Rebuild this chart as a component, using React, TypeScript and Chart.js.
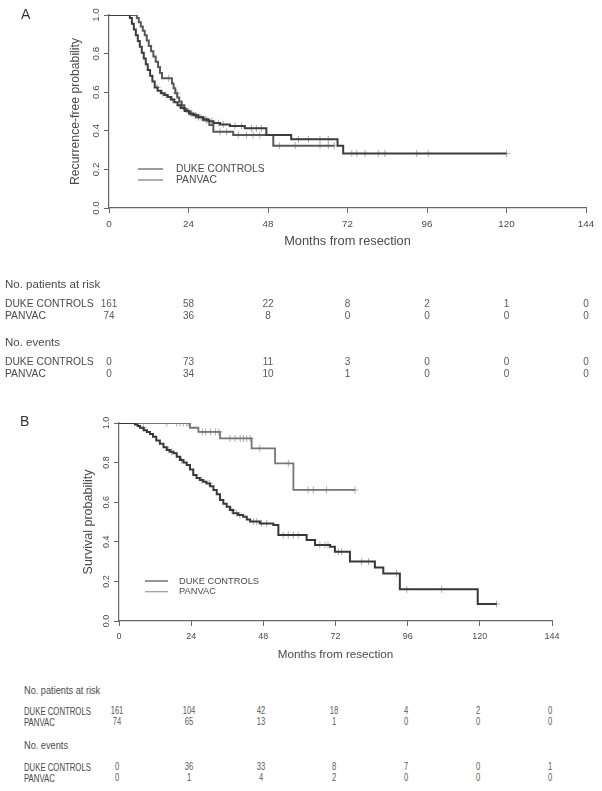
import React, { useEffect, useRef } from 'react';
import { Chart, registerables } from 'chart.js';

Chart.register(...registerables);

const FONT = '"Liberation Sans", Arial, Helvetica, sans-serif';

// ---------- shared axis / table data ----------
const xTicks = [0, 24, 48, 72, 96, 120, 144];
const yTicks = [0, 0.2, 0.4, 0.6, 0.8, 1.0];
const yTickLabels = ['0.0', '0.2', '0.4', '0.6', '0.8', '1.0'];
const groups = ['DUKE CONTROLS', 'PANVAC'];
const xTitle = 'Months from resection';

// ---------- Panel A: recurrence-free ----------
const aDukeT = [0, 6.3, 6.9, 7.5, 8.1, 8.7, 9.3, 9.9, 10.5, 11.1, 11.7, 12.4, 13.1, 13.8, 14.7, 15.7, 16.7, 17.7, 18.7, 19.7, 20.7, 21.7, 22.9, 24.2, 25.5, 27.0, 28.5, 30.0, 31.5, 33.5, 36.5, 41.0, 47.5, 55.0, 69.0, 70.7, 120];
const aDukeS = [1, 0.985, 0.955, 0.925, 0.895, 0.865, 0.835, 0.805, 0.775, 0.745, 0.715, 0.685, 0.655, 0.625, 0.607, 0.595, 0.585, 0.575, 0.562, 0.548, 0.533, 0.518, 0.503, 0.49, 0.48, 0.47, 0.46, 0.45, 0.44, 0.432, 0.425, 0.413, 0.378, 0.356, 0.323, 0.283, 0.283];
const aDukeCens = [14.5, 16.2, 17.2, 19.2, 21.2, 22.4, 25.0, 26.2, 27.8, 29.2, 31.0, 33.0, 34.5, 38.0, 40.0, 43.0, 44.5, 46.0, 57.2, 60.2, 63.7, 66.2, 73.3, 74.8, 77.3, 81.3, 83.3, 92.9, 96.4, 120];
const aPanT = [0, 8.4, 9.0, 9.6, 10.2, 10.8, 11.4, 12.0, 12.7, 13.4, 14.1, 14.8, 15.4, 16.0, 19.0, 19.5, 20.0, 20.6, 21.2, 21.9, 22.7, 23.5, 24.6, 26.2, 28.4, 30.3, 31.5, 37.5, 49.6, 68];
const aPanS = [1, 0.985, 0.962, 0.94, 0.918, 0.895, 0.868, 0.84, 0.812, 0.785, 0.758, 0.73, 0.7, 0.672, 0.645, 0.62, 0.595, 0.572, 0.552, 0.532, 0.512, 0.5, 0.485, 0.47, 0.455, 0.43, 0.395, 0.378, 0.323, 0.323];
const aPanCens = [18.0, 20.5, 22.2, 24.0, 27.0, 29.5, 33.5, 35.5, 39.0, 41.5, 43.5, 45.5, 51.5, 56.2, 63.7, 66.2, 68];
const aYTitle = 'Recurrence-free probability';
const aRiskDuke = [161, 58, 22, 8, 2, 1, 0];
const aRiskPan = [74, 36, 8, 0, 0, 0, 0];
const aEvDuke = [0, 73, 11, 3, 0, 0, 0];
const aEvPan = [0, 34, 10, 1, 0, 0, 0];

// ---------- Panel B: survival ----------
const bDukeT = [0, 5.3, 6.2, 7.0, 8.2, 9.3, 10.3, 11.3, 12.4, 13.6, 14.8, 15.9, 17.0, 18.1, 19.2, 20.3, 21.4, 22.5, 23.6, 24.7, 25.8, 26.9, 28.0, 29.1, 30.3, 31.4, 32.5, 33.6, 34.7, 35.8, 36.9, 38.0, 39.6, 41.3, 42.5, 43.6, 46.9, 51.3, 53.0, 62.4, 65.2, 70.2, 71.8, 76.8, 85.1, 87.9, 93.4, 119.3, 125.6];
const bDukeS = [1, 0.993, 0.985, 0.976, 0.963, 0.955, 0.945, 0.93, 0.912, 0.895, 0.878, 0.864, 0.855, 0.847, 0.83, 0.813, 0.8, 0.788, 0.765, 0.737, 0.722, 0.712, 0.703, 0.695, 0.68, 0.662, 0.64, 0.611, 0.592, 0.577, 0.56, 0.544, 0.535, 0.527, 0.512, 0.502, 0.493, 0.485, 0.434, 0.409, 0.384, 0.375, 0.35, 0.3, 0.27, 0.24, 0.16, 0.086, 0.086];
const bDukeCens = [8.1, 16.4, 17.5, 20.8, 27.5, 30.0, 37.5, 39.1, 40.2, 44.7, 45.8, 47.4, 49.1, 54.6, 56.3, 58.0, 59.6, 66.8, 68.5, 69.5, 72.9, 74.0, 80.7, 83.0, 92.3, 95.7, 107.3, 125.6];
const bPanT = [0, 23.6, 26.4, 33.6, 44.1, 51.9, 58.0, 78.5];
const bPanS = [1, 0.976, 0.955, 0.922, 0.872, 0.796, 0.662, 0.662];
const bPanCens = [15.9, 19.2, 20.3, 21.4, 22.5, 23.0, 27.7, 28.8, 30.4, 32.1, 33.2, 36.9, 38.6, 40.3, 41.4, 42.5, 43.6, 46.8, 56.3, 62.9, 64.6, 69.0, 78.5];
const bYTitle = 'Survival probability';
const bRiskDuke = [161, 104, 42, 18, 4, 2, 0];
const bRiskPan = [74, 65, 13, 1, 0, 0, 0];
const bEvDuke = [0, 36, 33, 8, 7, 0, 1];
const bEvPan = [0, 1, 4, 2, 0, 0, 0];

// ---------- helpers ----------
function survAt(times: number[], surv: number[], t: number) {
  let s = surv[0];
  for (let i = 0; i < times.length; i++) if (times[i] <= t) s = surv[i];
  return s;
}

type Series = { name: string; t: number[]; s: number[]; c: number[]; color: string; width: number; legendColor: string };
type Layout = {
  tickFont: number; xTitleFont: number; yTitleFont: number;
  padTop: number; padBottom: number; padRight: number;
  yWidth: number; xHeight: number; yTitlePad: number; xTitlePad: number;
  xTickPad: number; yTickPad: number;
  legend: { x0: number; x1: number; tx: number; ys: number[]; font: number };
};

function legendPlugin(series: Series[], lg: Layout['legend']) {
  return {
    id: 'kmLegend',
    afterDraw(chart: any) {
      const ctx = chart.ctx;
      ctx.save();
      ctx.font = `${lg.font}px ${FONT}`;
      ctx.textBaseline = 'middle';
      ctx.textAlign = 'left';
      series.forEach((s, i) => {
        ctx.strokeStyle = s.legendColor;
        ctx.lineWidth = 1.2;
        ctx.beginPath();
        ctx.moveTo(lg.x0, lg.ys[i]);
        ctx.lineTo(lg.x1, lg.ys[i]);
        ctx.stroke();
        ctx.fillStyle = '#4a4a4a';
        ctx.fillText(s.name, lg.tx, lg.ys[i]);
      });
      ctx.restore();
    },
  };
}

function makeConfig(series: Series[], yTitle: string, L: Layout): any {
  const datasets: any[] = [];
  series.forEach((s) => {
    datasets.push({
      type: 'line',
      label: s.name,
      data: s.t.map((t, j) => ({ x: t, y: s.s[j] })),
      stepped: 'before',
      borderColor: s.color,
      borderWidth: s.width,
      pointRadius: 0,
      fill: false,
      order: 0,
    });
    datasets.push({
      type: 'scatter',
      label: s.name + ' censored',
      data: s.c.map((t) => ({ x: t, y: survAt(s.t, s.s, t) })),
      pointStyle: 'cross',
      pointRadius: 3.5,
      borderColor: '#ababab',
      backgroundColor: '#ababab',
      borderWidth: 1,
      order: 1,
    });
  });
  const axisColor = '#666';
  const textColor = '#4a4a4a';
  return {
    type: 'line',
    data: { datasets },
    options: {
      responsive: false,
      animation: false,
      devicePixelRatio: 1,
      events: [],
      layout: { padding: { top: L.padTop, bottom: L.padBottom, left: 0, right: L.padRight } },
      plugins: { legend: { display: false }, tooltip: { enabled: false } },
      scales: {
        x: {
          type: 'linear',
          min: xTicks[0],
          max: xTicks[xTicks.length - 1],
          afterBuildTicks: (sc: any) => { sc.ticks = xTicks.map((v) => ({ value: v })); },
          afterFit: (sc: any) => { sc.height = L.xHeight; },
          ticks: {
            autoSkip: false, maxRotation: 0, minRotation: 0, padding: L.xTickPad,
            color: textColor, font: { family: FONT, size: L.tickFont },
            callback: (v: number) => String(v),
          },
          grid: { drawOnChartArea: false, drawTicks: true, tickLength: 5, color: axisColor, tickColor: axisColor, tickWidth: 1 },
          border: { display: true, color: axisColor, width: 1.2 },
          title: { display: true, text: xTitle, color: textColor, font: { family: FONT, size: L.xTitleFont }, padding: { top: 0, bottom: L.xTitlePad } },
        },
        y: {
          type: 'linear',
          min: yTicks[0],
          max: yTicks[yTicks.length - 1],
          afterBuildTicks: (sc: any) => { sc.ticks = yTicks.map((v) => ({ value: v })); },
          afterFit: (sc: any) => { sc.width = L.yWidth; },
          ticks: {
            autoSkip: false, minRotation: 90, maxRotation: 90, crossAlign: 'center', padding: L.yTickPad,
            color: textColor, font: { family: FONT, size: L.tickFont },
            callback: (_v: number, i: number) => yTickLabels[i],
          },
          grid: { drawOnChartArea: false, drawTicks: true, tickLength: 5, color: axisColor, tickColor: axisColor, tickWidth: 1 },
          border: { display: true, color: axisColor, width: 1.2 },
          title: { display: true, text: yTitle, color: textColor, font: { family: FONT, size: L.yTitleFont }, padding: { top: L.yTitlePad, bottom: 0 } },
        },
      },
    },
    plugins: [legendPlugin(series, L.legend)],
  };
}

const seriesA: Series[] = [
  { name: groups[0], t: aDukeT, s: aDukeS, c: aDukeCens, color: '#3c3c3c', width: 2, legendColor: '#5a5a5a' },
  { name: groups[1], t: aPanT, s: aPanS, c: aPanCens, color: '#595959', width: 2, legendColor: '#7a7a7a' },
];
const seriesB: Series[] = [
  { name: groups[0], t: bDukeT, s: bDukeS, c: bDukeCens, color: '#383838', width: 2, legendColor: '#505050' },
  { name: groups[1], t: bPanT, s: bPanS, c: bPanCens, color: '#767676', width: 1.8, legendColor: '#9a9a9a' },
];

// canvas A: 0..262, plot area x 109..586, y 15..208
const layoutA: Layout = {
  tickFont: 9.8, xTitleFont: 12.8, yTitleFont: 12.2,
  padTop: 15, padBottom: 7, padRight: 16,
  yWidth: 109, xHeight: 47, yTitlePad: 68.7, xTitlePad: 6,
  xTickPad: 5, yTickPad: 1,
  legend: { x0: 138, x1: 163, tx: 176, ys: [169, 180], font: 10.3 },
};
// canvas B: top 405, height 270; plot area x 119..552, y 423..621 (canvas 18..216)
const layoutB: Layout = {
  tickFont: 9, xTitleFont: 11.7, yTitleFont: 12.5,
  padTop: 18, padBottom: 8, padRight: 50,
  yWidth: 119, xHeight: 46, yTitlePad: 80.8, xTitlePad: 5,
  xTickPad: 5, yTickPad: 1,
  legend: { x0: 145, x1: 168, tx: 179, ys: [176, 186.7], font: 9.3 },
};

const colX = (x0: number, x1: number) => xTicks.map((v) => x0 + ((v - xTicks[0]) / (xTicks[xTicks.length - 1] - xTicks[0])) * (x1 - x0));

function Txt(props: { x: number; y: number; size: number; text: string | number; center?: boolean; sx?: number; color?: string }) {
  const { x, y, size, text, center, sx = 1, color = '#4a4a4a' } = props;
  return (
    <span
      style={{
        position: 'absolute', left: x, top: y, fontSize: size, lineHeight: 1, whiteSpace: 'nowrap', color,
        fontFamily: FONT,
        transform: `translate(${center ? '-50%' : '0'}, -50%) scaleX(${sx})`,
        transformOrigin: center ? 'center center' : 'left center',
      }}
    >
      {text}
    </span>
  );
}

function Table(props: {
  left: number; cols: number[]; ys: number[]; headSize: number; rowSize: number; numSize: number; sx: number; hsx: number;
  risk: number[][]; ev: number[][];
}) {
  const { left, cols, ys, headSize, rowSize, numSize, sx, hsx, risk, ev } = props;
  const out: any[] = [];
  out.push(<Txt key="h1" x={left} y={ys[0]} size={headSize} text="No. patients at risk" sx={hsx} />);
  out.push(<Txt key="h2" x={left} y={ys[3]} size={headSize} text="No. events" sx={hsx} />);
  const rows: [number, number[], string][] = [
    [ys[1], risk[0], groups[0]], [ys[2], risk[1], groups[1]],
    [ys[4], ev[0], groups[0]], [ys[5], ev[1], groups[1]],
  ];
  rows.forEach(([y, vals, name], r) => {
    out.push(<Txt key={'l' + r} x={left} y={y} size={rowSize} text={name} sx={sx} />);
    vals.forEach((v, i) => out.push(<Txt key={`n${r}-${i}`} x={cols[i]} y={y} size={numSize} text={v} center sx={sx} color="#5a5a5a" />));
  });
  return <>{out}</>;
}

export default function App() {
  const refA = useRef<HTMLCanvasElement>(null);
  const refB = useRef<HTMLCanvasElement>(null);
  useEffect(() => {
    const a = new Chart(refA.current as HTMLCanvasElement, makeConfig(seriesA, aYTitle, layoutA));
    const b = new Chart(refB.current as HTMLCanvasElement, makeConfig(seriesB, bYTitle, layoutB));
    return () => { a.destroy(); b.destroy(); };
  }, []);
  return (
    <div style={{ position: 'absolute', left: 0, top: 0, width: 602, height: 791, background: '#fff', overflow: 'hidden' }}>
      <canvas ref={refA} width={602} height={262} style={{ position: 'absolute', left: 0, top: 0, width: 602, height: 262 }} />
      <canvas ref={refB} width={602} height={270} style={{ position: 'absolute', left: 0, top: 405, width: 602, height: 270 }} />
      <Txt x={21} y={14} size={14} text="A" color="#333" />
      <Txt x={20} y={421} size={14} text="B" color="#333" />
      <Table left={5} cols={colX(109, 586)} ys={[285, 304, 315.7, 342.7, 362.3, 374]} headSize={11.5} rowSize={10.3} numSize={10} sx={1} hsx={1}
        risk={[aRiskDuke, aRiskPan]} ev={[aEvDuke, aEvPan]} />
      <Table left={24} cols={colX(117, 550)} ys={[691, 711, 722, 746, 767, 778]} headSize={11.5} rowSize={10.5} numSize={10.3} sx={0.74} hsx={0.8}
        risk={[bRiskDuke, bRiskPan]} ev={[bEvDuke, bEvPan]} />
    </div>
  );
}
